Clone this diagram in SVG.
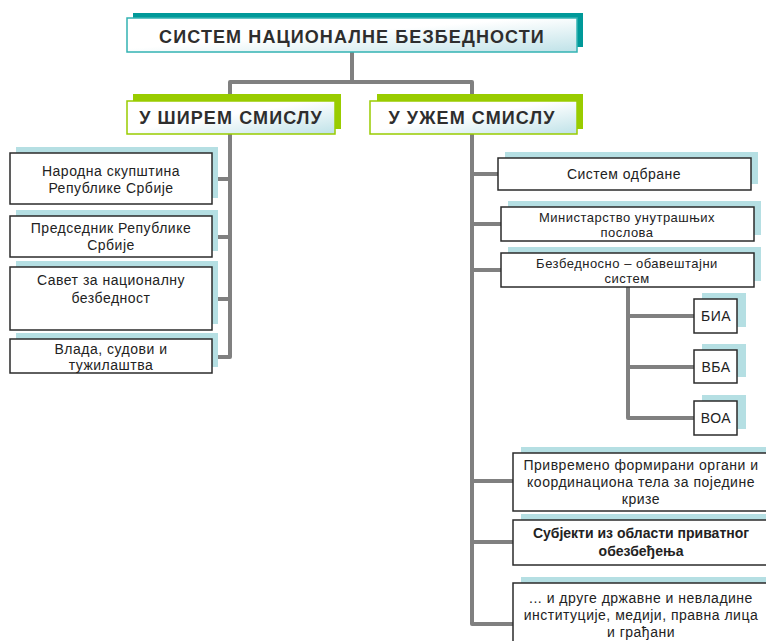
<svg xmlns="http://www.w3.org/2000/svg" width="766" height="641" viewBox="0 0 766 641">
<defs>
<linearGradient id="hdr" x1="0" y1="0" x2="1" y2="1">
<stop offset="0" stop-color="#ffffff"/>
<stop offset="0.45" stop-color="#ffffff"/>
<stop offset="1" stop-color="#bfe2e8"/>
</linearGradient>
<style>
.conn{fill:none;stroke:#808080;stroke-width:4;stroke-linejoin:round;stroke-linecap:butt}
.sh{fill:#b5dfe3}
.bx{fill:#ffffff;stroke:#2b2b2b;stroke-width:1.5}
.t{font-family:"Liberation Sans",Arial,sans-serif;font-size:14px;fill:#222;text-anchor:middle;letter-spacing:0.5px}
.s{font-size:13px}
.tb{font-weight:bold;letter-spacing:0}
.h{font-family:"Liberation Sans",Arial,sans-serif;font-weight:bold;font-size:18px;fill:#2e2e2e;text-anchor:middle;letter-spacing:1.1px}
.gsh{fill:#99cc00}
.gbx{fill:url(#hdr);stroke:#99cc00;stroke-width:1.5}
.tsh{fill:#009999}
.tbx{fill:url(#hdr);stroke:#33b3b3;stroke-width:1.5}
</style>
</defs>

<g id="connectors">
<path class="conn" d="M352,52 V82 M230,101 V82 H472 V101"/>
<path class="conn" d="M230,134 V357 H212 M212,179 H230 M212,237 H230 M212,299 H230"/>
<path class="conn" d="M472,134 V624 H513 M472,174 H498 M472,224 H501 M472,270 H501 M472,481 H513 M472,542 H513"/>
<path class="conn" d="M628,287 V418 H694 M628,316 H694 M628,367 H694"/>
</g>

<g id="root">
<rect class="tsh" x="133" y="13" width="450" height="34"/>
<rect class="tbx" x="127" y="18" width="450" height="34"/>
<text class="h" x="352" y="43">СИСТЕМ НАЦИОНАЛНЕ БЕЗБЕДНОСТИ</text>
</g>

<g id="wide">
<rect class="gsh" x="133" y="94" width="208" height="35"/>
<rect class="gbx" x="127" y="101" width="208" height="33"/>
<text class="h" x="231" y="124">У ШИРЕМ СМИСЛУ</text>
</g>

<g id="narrow">
<rect class="gsh" x="377" y="94" width="206" height="35"/>
<rect class="gbx" x="370" y="101" width="207" height="33"/>
<text class="h" x="472" y="124">У УЖЕМ СМИСЛУ</text>
</g>

<g id="skupstina">
<rect class="sh" x="16" y="147" width="202" height="51"/>
<rect class="bx" x="10" y="153" width="202" height="51"/>
<text class="t" x="111" y="176">Народна скупштина</text>
<text class="t" x="111" y="193">Републике Србије</text>
</g>

<g id="predsednik">
<rect class="sh" x="16" y="210" width="202" height="41"/>
<rect class="bx" x="10" y="216" width="202" height="41"/>
<text class="t" x="111" y="233">Председник Републике</text>
<text class="t" x="111" y="250">Србије</text>
</g>

<g id="savet">
<rect class="sh" x="16" y="261" width="202" height="63"/>
<rect class="bx" x="10" y="267" width="202" height="63"/>
<text class="t" x="111" y="285">Савет за националну</text>
<text class="t" x="111" y="303">безбедност</text>
</g>

<g id="vlada">
<rect class="sh" x="16" y="333" width="202" height="34"/>
<rect class="bx" x="10" y="339" width="202" height="34"/>
<text class="t" x="111" y="354">Влада, судови и</text>
<text class="t" x="111" y="370">тужилаштва</text>
</g>

<g id="odbrana">
<rect class="sh" x="505" y="152" width="253" height="32"/>
<rect class="bx" x="498" y="158" width="253" height="32"/>
<text class="t" x="624" y="179">Систем одбране</text>
</g>

<g id="mup">
<rect class="sh" x="508" y="201" width="253" height="34"/>
<rect class="bx" x="501" y="207" width="253" height="34"/>
<text class="t s" x="627" y="222">Министарство унутрашњих</text>
<text class="t s" x="627" y="237">послова</text>
</g>

<g id="bos">
<rect class="sh" x="508" y="247" width="253" height="34"/>
<rect class="bx" x="501" y="253" width="253" height="34"/>
<text class="t s" x="627" y="268">Безбедносно – обавештајни</text>
<text class="t s" x="627" y="283">систем</text>
</g>

<g id="bia">
<rect class="sh" x="702" y="293" width="44" height="34"/>
<rect class="bx" x="694" y="299" width="43" height="34"/>
<text class="t" x="716" y="321">БИА</text>
</g>

<g id="vba">
<rect class="sh" x="702" y="344" width="44" height="33"/>
<rect class="bx" x="694" y="350" width="43" height="33"/>
<text class="t" x="716" y="372">ВБА</text>
</g>

<g id="voa">
<rect class="sh" x="702" y="395" width="44" height="34"/>
<rect class="bx" x="694" y="401" width="43" height="34"/>
<text class="t" x="716" y="423">ВОА</text>
</g>

<g id="privremeno">
<rect class="sh" x="521" y="447" width="260" height="58"/>
<rect class="bx" x="513" y="453" width="260" height="58"/>
<text class="t" x="641" y="470">Привремено формирани органи и</text>
<text class="t" x="641" y="487">координациона тела за поједине</text>
<text class="t" x="641" y="504">кризе</text>
</g>

<g id="privatno">
<rect class="sh" x="521" y="514" width="260" height="45"/>
<rect class="bx" x="513" y="520" width="260" height="45"/>
<text class="t tb" x="641" y="538">Субјекти из области приватног</text>
<text class="t tb" x="641" y="556">обезбеђења</text>
</g>

<g id="drugi">
<rect class="sh" x="521" y="577" width="260" height="70"/>
<rect class="bx" x="513" y="583" width="260" height="70"/>
<text class="t" x="641" y="603">... и друге државне и невладине</text>
<text class="t" x="641" y="620">институције, медији, правна лица</text>
<text class="t" x="641" y="637">и грађани</text>
</g>
</svg>
